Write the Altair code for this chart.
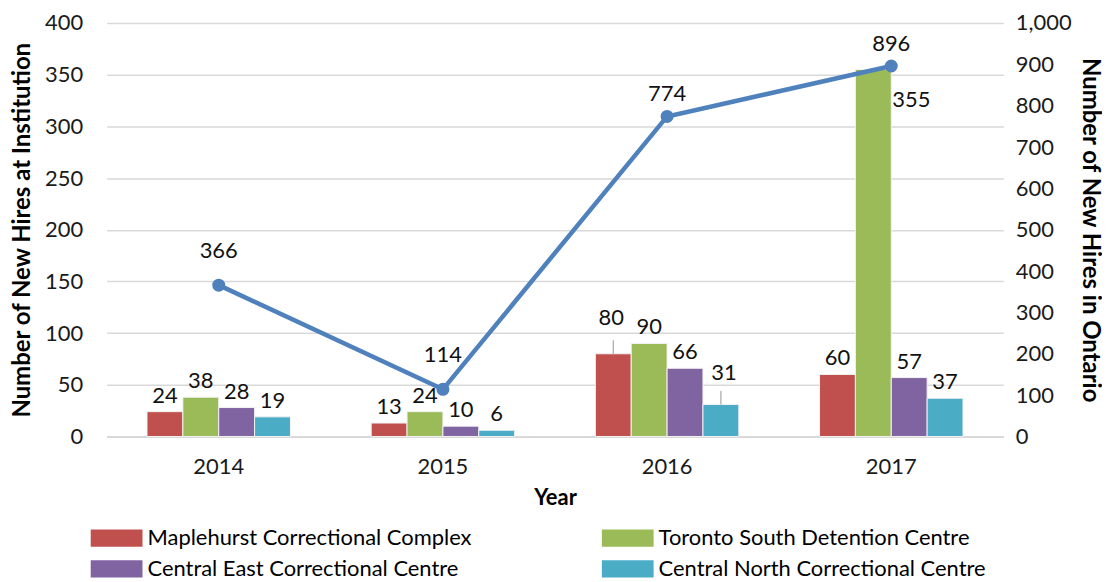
import altair as alt
import pandas as pd

years = ["2014", "2015", "2016", "2017"]
series = [
    "Maplehurst Correctional Complex",
    "Toronto South Detention Centre",
    "Central East Correctional Centre",
    "Central North Correctional Centre",
]
maplehurst = [24, 13, 80, 60]
toronto_south = [38, 24, 90, 355]
central_east = [28, 10, 66, 57]
central_north = [19, 6, 31, 37]
ontario_total = [366, 114, 774, 896]

colors = ["#C0504D", "#9BBB59", "#8064A2", "#4BACC6"]
FONT = "Lato"
FS = 22

rows = []
for s, vals in zip(series, [maplehurst, toronto_south, central_east, central_north]):
    for y, v in zip(years, vals):
        rows.append({"Year": y, "series": s, "value": v})
bars_df = pd.DataFrame(rows)
line_df = pd.DataFrame({"Year": years, "total": ontario_total})

x_enc = alt.X("Year:N", sort=years, title="Year",
              scale=alt.Scale(paddingInner=0.36, paddingOuter=0.18),
              axis=alt.Axis(labelAngle=0, ticks=False, domainColor="#D9D9D9", domainWidth=2,
                            labelPadding=20, titlePadding=10, titleFontSize=FS))
xoff = alt.XOffset("series:N", sort=series, scale=alt.Scale(paddingInner=0, paddingOuter=0))
y_left = alt.Y("value:Q", scale=alt.Scale(domain=[0, 400]),
               title="Number of New Hires at Institution",
               axis=alt.Axis(values=list(range(0, 401, 50)), ticks=False, domain=False,
                             labelPadding=24, titlePadding=10, gridColor="#D9D9D9", gridWidth=1.5))

base = alt.Chart(bars_df)
bars = base.mark_bar(stroke="#F2F2F2", strokeWidth=1).encode(
    x=x_enc, xOffset=xoff, y=y_left,
    color=alt.Color("series:N", sort=series, scale=alt.Scale(domain=series, range=colors),
                    legend=alt.Legend(title=None, orient="none", legendX=-1, legendY=506,
                                      direction="horizontal",
                                      columns=2, columnPadding=130, rowPadding=9,
                                      labelFontSize=FS, labelLimit=600, labelOffset=20,
                                      symbolType="M-3,-1H3V1H-3Z", symbolSize=300,
                                      symbolStrokeWidth=0, padding=0)),
)

special = "(datum.Year=='2016' && (datum.series=='%s' || datum.series=='%s')) || (datum.Year=='2017' && datum.series=='%s')" % (
    series[0], series[3], series[1])

def bar_text(filt, dx, dy, align="center"):
    return base.transform_filter(filt).mark_text(fontSize=FS, color="#111111", dx=dx, dy=dy,
                                                 align=align, baseline="middle").encode(
        x=x_enc, xOffset=xoff, y=y_left, text="value:Q")

labels_main = bar_text("!(" + special + ")", 0, -16)
lab80 = bar_text("datum.Year=='2016' && datum.series=='%s'" % series[0], -2, -36)
lab31 = bar_text("datum.Year=='2016' && datum.series=='%s'" % series[3], 3, -32)
lab355 = bar_text("datum.Year=='2017' && datum.series=='%s'" % series[1], 19, 31, "left")

leaders = base.transform_filter(
    "datum.Year=='2016' && (datum.series=='%s' || datum.series=='%s')" % (series[0], series[3])
).transform_calculate(top="datum.value + 13").mark_rule(color="#A6A6A6", strokeWidth=1.2).encode(
    x=x_enc, xOffset=xoff, y=y_left, y2="top:Q")

left = alt.layer(bars, labels_main, lab80, lab31, lab355, leaders)

lbase = alt.Chart(line_df)
y_right = alt.Y("total:Q", scale=alt.Scale(domain=[0, 1000]),
                title="Number of New Hires in Ontario",
                axis=alt.Axis(orient="right", values=list(range(0, 1001, 100)), format=",.0f",
                              ticks=False, domain=False, grid=False, labelPadding=12, titlePadding=6))

line = lbase.mark_line(color="#4F81BD", strokeWidth=4.5).encode(x=x_enc, y=y_right)
pts = lbase.mark_point(filled=True, size=170, color="#4F81BD", opacity=1).encode(x=x_enc, y=y_right)
ltext1 = lbase.transform_filter("datum.Year=='2014' || datum.Year=='2015'").mark_text(
    fontSize=FS, color="#111111", dy=-34).encode(x=x_enc, y=y_right, text="total:Q")
ltext2 = lbase.transform_filter("datum.Year=='2016' || datum.Year=='2017'").mark_text(
    fontSize=FS, color="#111111", dy=-22).encode(x=x_enc, y=y_right, text="total:Q")

right = alt.layer(line, pts, ltext1, ltext2)

chart = alt.layer(left, right).resolve_scale(y="independent").properties(
    width=900, height=415, padding={"left": 2, "top": 3, "right": 0, "bottom": 0}
).configure(font=FONT).configure_axis(
    labelFontSize=FS, titleFontSize=24, titleFontWeight="bold", labelColor="#1a1a1a", titleColor="#000000"
).configure_view(stroke=None)

chart.save("out.html", embed_options={"renderer": "svg", "actions": False})
